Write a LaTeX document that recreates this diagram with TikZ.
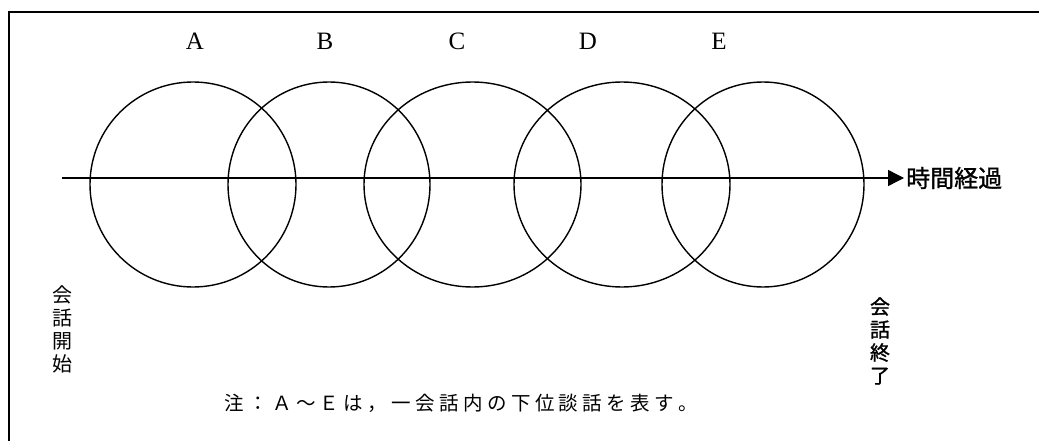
\documentclass[tikz,border=0pt]{standalone}
\usepackage{fontspec}
\usetikzlibrary{arrows.meta}
\setmainfont{Liberation Serif}
\newfontfamily\cjk{Noto Sans CJK JP}
\newfontfamily\cjkm[FakeBold=1.2]{Noto Sans CJK JP}
\newcommand\cellbox[1]{\makebox[23.9pt][c]{#1}}
\begin{document}
\begin{tikzpicture}[x=1pt,y=-1pt,
  ring/.style={line width=1.4pt},
  frameline/.style={line width=1.2pt},
  letter/.style={font=\fontsize{25}{25}\selectfont, inner sep=0pt},
  vlabel/.style={font=\cjk\fontsize{20}{23}\selectfont, align=center, inner sep=0pt},
  axis/.style={line width=1.4pt, -{Triangle[length=16pt,width=16pt]}}]
\useasboundingbox (0,0) rectangle (1039,441);
% frame
\draw[frameline] (9,441) -- (9,12) -- (1039,12);
% circles
\draw[ring] (193,184.5) ellipse [x radius=103, y radius=102.5];
\draw[ring] (329,184.5) ellipse [x radius=101, y radius=102.5];
\draw[ring] (472.5,184.5) ellipse [x radius=108.5, y radius=102.5];
\draw[ring] (622,184.5) ellipse [x radius=108, y radius=102.5];
\draw[ring] (763,184.5) ellipse [x radius=101, y radius=102.5];
% letters
\node[letter] (la) at (195,41) {A};
\node[letter] (lb) at (325,41) {B};
\node[letter] (lc) at (457,41) {C};
\node[letter] (ld) at (588,41) {D};
\node[letter] (le) at (719,41) {E};
% axis
\coordinate (start) at (62,178);
\node[anchor=west, inner sep=0pt, font=\cjkm\fontsize{24}{24}\selectfont] (time) at (906,178) {時間経過};
\draw[axis] (start) -- ([xshift=-2pt]time.west);
% vertical labels
\node[vlabel] (begin) at (62,329) {会\\話\\開\\始};
\node[vlabel, font=\cjkm\fontsize{20}{23}\selectfont] (end) at (880,341) {会\\話\\終\\了};
% note
\node[anchor=west, inner sep=0pt, font=\cjk\fontsize{19.5}{20}\selectfont] (note) at (222,403) {\cellbox{注}\cellbox{：}\cellbox{Ａ}\cellbox{～}\cellbox{Ｅ}\cellbox{は}\cellbox{，}\cellbox{一}\cellbox{会}\cellbox{話}\cellbox{内}\cellbox{の}\cellbox{下}\cellbox{位}\cellbox{談}\cellbox{話}\cellbox{を}\cellbox{表}\cellbox{す}\cellbox{。}};
\end{tikzpicture}
\end{document}
